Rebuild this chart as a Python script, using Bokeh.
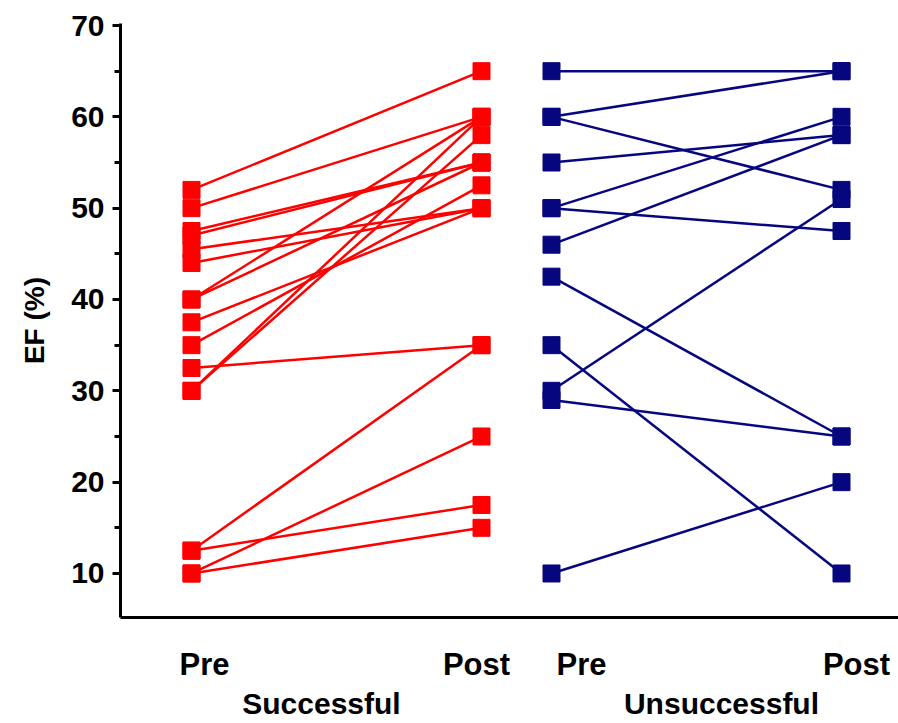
from bokeh.plotting import figure
from bokeh.models import Range1d, SingleIntervalTicker, FixedTicker, LinearAxis, ColumnDataSource
from bokeh.embed import file_html
from bokeh.resources import INLINE

# ---- data (EF %) ----
succ_pre = [52, 50, 47.5, 47, 45.5, 44, 40, 40, 37.5, 35, 32.5, 30, 30, 12.5, 12.5, 10, 10]
succ_post = [65, 60, 55, 55, 50, 50, 60, 55, 50, 52.5, 35, 60, 58, 35, 17.5, 25, 15]

unsucc_pre = [65, 60, 60, 55, 50, 50, 46, 42.5, 35, 30, 29, 10]
unsucc_post = [65, 65, 52, 58, 60, 47.5, 58, 25, 10, 51, 25, 20]

tick_labels = ["Pre", "Post", "Pre", "Post"]
group_labels = ["Successful", "Unsuccessful"]

# layout positions: columns, their labels, and the group labels on the x axis
col_x = [0, 29, 36, 65]
label_x = [1.3, 28.5, 39, 66.5]
group_x = [13, 53]

RED = "#FF0000"
BLUE = "#06067F"
FONT = "Liberation Sans"

p = figure(width=898, height=723, output_backend="svg", toolbar_location=None,
           x_range=Range1d(-7.1, 70.7), y_range=Range1d(5.18, 70.22),
           min_border_left=120, min_border_top=23, min_border_right=0, min_border_bottom=106)
p.xgrid.visible = False
p.ygrid.visible = False
p.outline_line_color = None
p.background_fill_color = "white"

def draw(pre, post, x0, x1, color):
    src = ColumnDataSource(dict(x0=[x0] * len(pre), y0=pre, x1=[x1] * len(post), y1=post))
    p.segment(x0="x0", y0="y0", x1="x1", y1="y1", source=src, line_color=color, line_width=2.5)
    p.scatter(x="x0", y="y0", source=src, marker="square", size=17, fill_color=color, line_color=color)
    p.scatter(x="x1", y="y1", source=src, marker="square", size=17, fill_color=color, line_color=color)

draw(succ_pre, succ_post, col_x[0], col_x[1], RED)
draw(unsucc_pre, unsucc_post, col_x[2], col_x[3], BLUE)

# y axis
ya = p.yaxis[0]
ya.ticker = SingleIntervalTicker(interval=10, num_minor_ticks=2)
ya.axis_line_width = 3
ya.axis_line_color = "black"
ya.major_tick_line_width = 3
ya.minor_tick_line_width = 3
ya.major_tick_out = 8
ya.major_tick_in = 0
ya.minor_tick_out = 6
ya.minor_tick_in = 0
ya.major_label_text_font = FONT
ya.major_label_text_font_style = "bold"
ya.major_label_text_font_size = "30px"
ya.major_label_text_color = "black"
ya.major_label_standoff = 8
ya.axis_label = "EF (%)"
ya.axis_label_text_font = FONT
ya.axis_label_text_font_style = "bold"
ya.axis_label_text_font_size = "28px"
ya.axis_label_text_color = "black"
ya.axis_label_standoff = 18

# x axis (Pre / Post)
xa = p.xaxis[0]
xa.ticker = FixedTicker(ticks=label_x)
xa.major_label_overrides = {x: t for x, t in zip(label_x, tick_labels)}
xa.axis_line_width = 3
xa.axis_line_color = "black"
xa.major_tick_line_color = None
xa.minor_tick_line_color = None
xa.major_tick_out = 0
xa.major_tick_in = 0
xa.major_label_standoff = 29
xa.major_label_text_font = FONT
xa.major_label_text_font_style = "bold"
xa.major_label_text_font_size = "31px"
xa.major_label_text_color = "black"

# group labels
ga = LinearAxis(ticker=FixedTicker(ticks=group_x),
                major_label_overrides={x: t for x, t in zip(group_x, group_labels)})
ga.axis_line_color = None
ga.major_tick_line_color = None
ga.minor_tick_line_color = None
ga.major_tick_out = 0
ga.major_tick_in = 0
ga.major_label_standoff = 2
ga.major_label_text_font = FONT
ga.major_label_text_font_style = "bold"
ga.major_label_text_font_size = "30px"
ga.major_label_text_color = "black"
p.add_layout(ga, "below")

open("out.html", "w").write(file_html(p, INLINE))
